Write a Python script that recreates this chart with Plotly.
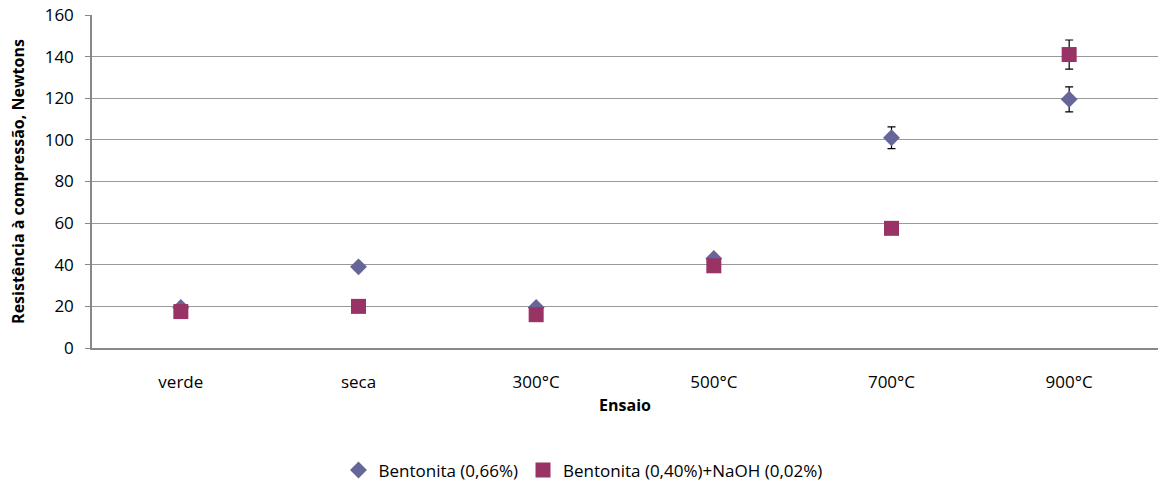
import plotly.graph_objects as go

# Ensaio categories and compressive strength (N)
ensaios = ["verde", "seca", "300°C", "500°C", "700°C", "900°C"]
bentonita_066 = [19.5, 39, 19.5, 43, 101, 119.5]
bentonita_066_err = [0.5, 1, 0.5, 1, 5.2, 6]
bentonita_040_naoh = [17.5, 20, 16, 39.5, 57.5, 141]
bentonita_040_naoh_err = [0.5, 0.5, 0.5, 0.5, 0.5, 7]

y_ticks = [0, 20, 40, 60, 80, 100, 120, 140, 160]

FONT = "'Open Sans', sans-serif"

fig = go.Figure()

fig.add_trace(go.Scatter(
    x=ensaios, y=bentonita_066, mode="markers",
    name="Bentonita (0,66%)",
    marker=dict(symbol="diamond", size=13, color="#666699"),
    error_y=dict(type="data", array=bentonita_066_err, visible=True,
                 color="black", thickness=1.2, width=4),
))

fig.add_trace(go.Scatter(
    x=ensaios, y=bentonita_040_naoh, mode="markers",
    name="Bentonita (0,40%)+NaOH (0,02%)",
    marker=dict(symbol="square", size=15, color="#993366"),
    error_y=dict(type="data", array=bentonita_040_naoh_err, visible=True,
                 color="black", thickness=1.2, width=4),
))

fig.update_layout(
    width=1159, height=484,
    margin=dict(l=92, r=1, t=15, b=136),
    paper_bgcolor="white", plot_bgcolor="white",
    font=dict(family=FONT, size=17, color="#000000"),
    showlegend=True,
    legend=dict(orientation="h", xref="container", yref="container",
                x=0.503, xanchor="center", y=0.028, yanchor="middle",
                font=dict(size=17), itemwidth=30, tracegroupgap=0),
    xaxis=dict(
        type="category", categoryorder="array", categoryarray=ensaios,
        range=[-0.5, 5.5], showgrid=False, zeroline=False,
        showline=True, linecolor="#888888", linewidth=1.5,
        ticks="", tickfont=dict(size=17), ticklabelstandoff=18,
        title=dict(text="<b>Ensaio</b>", font=dict(size=16), standoff=8),
    ),
    yaxis=dict(
        range=[0, 160], tickvals=y_ticks, showgrid=True,
        gridcolor="#999999", gridwidth=1.3, zeroline=False,
        showline=True, linecolor="#888888", linewidth=1.5,
        ticks="outside", ticklen=5, tickcolor="#888888",
        tickfont=dict(size=17), ticklabelstandoff=8,
        title=dict(text="<b>Resistência à compressão, Newtons</b>",
                   font=dict(size=16), standoff=16),
    ),
)

fig.write_html("out.html")
